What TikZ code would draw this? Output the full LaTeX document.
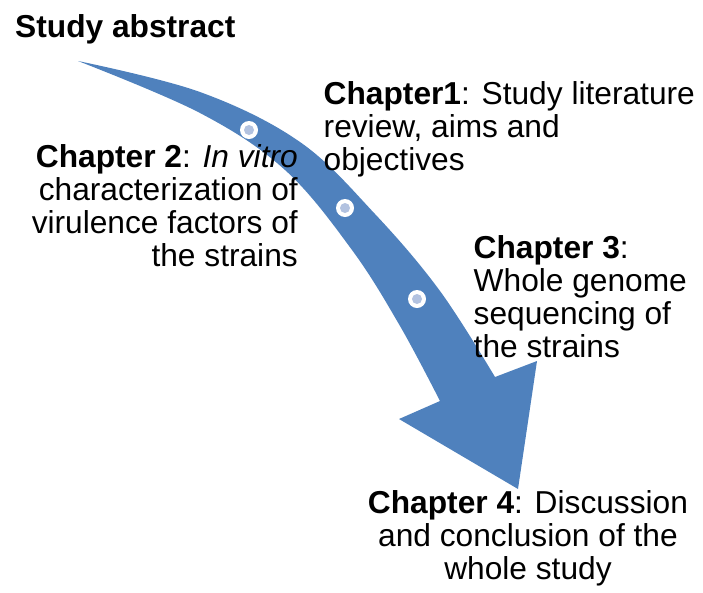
\documentclass[tikz,border=0pt]{standalone}
\usepackage{fontspec}
\setmainfont{Liberation Sans}
\definecolor{arrowblue}{RGB}{79,129,189}
\definecolor{dotblue}{RGB}{178,194,224}
\begin{document}
\begin{tikzpicture}[x=1pt,y=-1pt,
  txt/.style={font=\fontsize{31.7}{33.2}\selectfont, inner sep=0pt, text=black},
  ring/.style={circle, fill=white, draw=none, minimum size=18pt, inner sep=0pt},
  dot/.style={circle, fill=dotblue, draw=none, minimum size=10pt, inner sep=0pt}]
\useasboundingbox (0,0) rectangle (703,592);
% curved arrow
\fill[arrowblue] plot[smooth, tension=0.6] coordinates {(78,61) (200,92) (300,142) (375,214) (440,291) (495,377)}
  -- (537,361) -- (518,489) -- (399,419) -- (440,401)
  -- plot[smooth, tension=0.6] coordinates {(440,401) (400,326) (352,250) (285,170) (200,113) (78,61)} -- cycle;
% dots on the arrow
\node[ring] (r1) at (249,130) {};
\node[dot] (d1) at (r1) {};
\node[ring] (r2) at (345,208) {};
\node[dot] (d2) at (r2) {};
\node[ring] (r3) at (417,299) {};
\node[dot] (d3) at (r3) {};
% texts
\node[txt, anchor=base west] (abs) at (15,37) {\textbf{Study abstract}};
\node[txt, anchor=base west] (ch1) at (323.5,104.5) {\begin{tabular}[t]{@{}l@{}}\textbf{Chapter1}: Study literature\\review, aims and\\objectives\end{tabular}};
\node[txt, anchor=base east] (ch2) at (298,167) {\begin{tabular}[t]{@{}r@{}}\textbf{Chapter 2}: \textit{In vitro}\\characterization of\\virulence factors of\\the strains\end{tabular}};
\node[txt, anchor=base west] (ch3) at (473.5,258.3) {\begin{tabular}[t]{@{}l@{}}\textbf{Chapter 3}:\\Whole genome\\sequencing of\\the strains\end{tabular}};
\node[txt, anchor=base] (ch4) at (528,513) {\begin{tabular}[t]{@{}c@{}}\textbf{Chapter 4}: Discussion\\and conclusion of the\\whole study\end{tabular}};
\end{tikzpicture}
\end{document}
